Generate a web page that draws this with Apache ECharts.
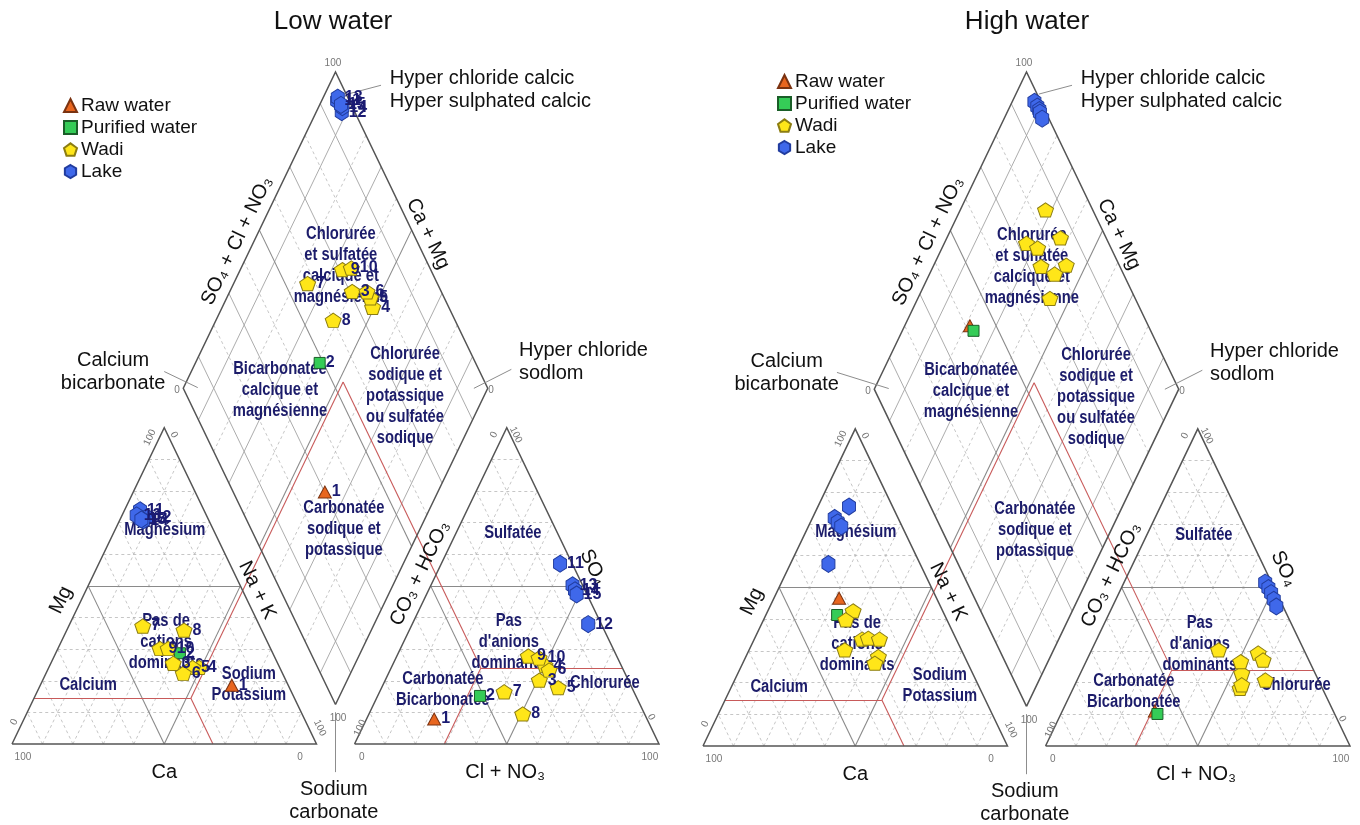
<!DOCTYPE html>
<html><head><meta charset="utf-8">
<script src="https://cdn.jsdelivr.net/npm/echarts@6/dist/echarts.min.js"></script>
<style>html,body{margin:0;padding:0;background:#fff}#c{width:1360px;height:825px}</style>
</head><body><div id="c"></div>
<script>
// ===== DATA (percent of meq) =====
// Low water
const lowRawId=[1], lowRawMg=[18.6], lowRawNaK=[62.9], lowRawSO4=[7.9], lowRawCl=[22.2];
const lowPurId=[2], lowPurMg=[28.7], lowPurNaK=[40.8], lowPurSO4=[15.2], lowPurCl=[33.6];
const lowWadiId=[3,4,5,6,7,8,9,10];
const lowWadiMg =[25.5,24.2,24.2,22.3,37.3,36.0,30.2,30.2];
const lowWadiNaK=[40.2,49.4,47.2,45.1,24.3,38.5,33.5,36.2];
const lowWadiSO4=[20.2,24.9,17.8,23.4,16.5, 9.5,27.8,27.2];
const lowWadiCl =[50.6,50.1,58.0,52.2,40.9,50.5,43.2,47.0];
const lowLakeId=[11,12,13,14,15];
const lowLakeMg =[73.9,71.7,72.3,70.7,71.0];
const lowLakeNaK=[5.1,8.4,4.8,7.8,7.0];
const lowLakeSO4=[57.0,37.9,50.2,48.6,47.3];
const lowLakeCl =[39.0,57.8,46.5,48.1,49.3];
// High water
const highRawMg=[46.6], highRawNaK=[21.4], highRawSO4=[11.0], highRawCl=[30.4];
const highPurMg=[41.3], highPurNaK=[23.4], highPurSO4=[10.1], highPurCl=[31.7];
const highWadiMg =[42.6,39.8,30.3,33.7,34.0,28.2,33.7,26.1];
const highWadiNaK=[28.0,27.0,31.4,35.4,37.3,43.5,41.1,43.4];
const highWadiSO4=[29.3,18.2,22.9,19.3,27.1,20.8,26.6,30.3];
const highWadiCl =[55.2,54.8,53.0,54.8,57.9,61.8,50.8,41.7];
const highLakeMg =[71.9,70.5,75.5,69.2,57.4];
const highLakeNaK=[7.3,9.0,10.2,10.8,12.5];
const highLakeSO4=[51.5,49.8,48.2,46.1,44.0];
const highLakeCl =[46.4,48.3,50.0,51.9,53.8];
// classification (red) lines
const redCatMg=14.5, redCatNaK=51.5, redAnSO4=24, redAnCl=29.5;
const gridSteps=[10,20,30,40,50,60,70,80,90];

// ===== GEOMETRY (Piper) =====
const G=12.5, S=Math.sqrt(3)/2, OFF=100+G, BX=100+G/2, BY=G/2*Math.sqrt(3);
const XMAX=200+G, YMAX=BY+200*S;
const cat=(mg,nak)=>[nak+mg/2, mg*S];
const an=(so4,cl)=>[OFF+cl+so4/2, so4*S];
const dia=(a,c)=>[BX+(a-c)/2, BY+(a+c)*S];

const PENT='path://M0,-10 L9.51,-3.09 L5.88,8.09 L-5.88,8.09 L-9.51,-3.09 Z';
const HEX='path://M0,-10 L8.66,-5 L8.66,5 L0,10 L-8.66,5 L-8.66,-5 Z';
const groups=[
 {name:'Raw water',symbol:'triangle',size:[13,12],color:'#e8661f',border:'#7a3210'},
 {name:'Purified water',symbol:'rect',size:[11,11],color:'#35cc57',border:'#1a5e28'},
 {name:'Wadi',symbol:PENT,size:[16,15],color:'#ffe619',border:'#8c7d12'},
 {name:'Lake',symbol:HEX,size:[15,17],color:'#3f68ea',border:'#213c9e'}
];
const SANS='"Liberation Sans",Arial,sans-serif';

function samplePoints(ids,mg,nak,so4,cl){
  const out=[];
  mg.forEach((m,i)=>{
    const nm=ids?String(ids[i]):'';
    const a=so4[i]+cl[i], c=100-nak[i];
    out.push({name:nm,value:cat(m,nak[i])});
    out.push({name:nm,value:an(so4[i],cl[i])});
    out.push({name:nm,value:dia(a,c)});
  });
  return out;
}
function seg(p,q){return {coords:[p,q]};}
function gridLines(){
  const dash=[], solid=[], dsolid=[];
  gridSteps.forEach(k=>{
    const t=(k===50)?solid:dash;
    t.push(seg(cat(k,0),cat(k,100-k)));
    t.push(seg(cat(0,k),cat(100-k,k)));
    t.push(seg(cat(0,100-k),cat(100-k,0)));
    t.push(seg(an(k,0),an(k,100-k)));
    t.push(seg(an(0,k),an(100-k,k)));
    t.push(seg(an(0,100-k),an(100-k,0)));
    const d=(k%20===10)?(k===50?solid:dsolid):dash;
    d.push(seg(dia(k,0),dia(k,100)));
    d.push(seg(dia(0,k),dia(100,k)));
  });
  return {dash,solid,dsolid};
}
function outlines(){
  return [
    {coords:[cat(0,0),cat(0,100),cat(100,0),cat(0,0)]},
    {coords:[an(0,0),an(0,100),an(100,0),an(0,0)]},
    {coords:[dia(0,0),dia(100,0),dia(100,100),dia(0,100),dia(0,0)]}
  ];
}
function redLines(){
  const jc=cat(redCatMg,redCatNaK), ja=an(redAnSO4,redAnCl);
  const apex=dia(redAnSO4+redAnCl, 100-redCatNaK);
  return [
    seg(cat(redCatMg,0),jc), seg(jc,cat(0,redCatMg+redCatNaK)), seg(jc,apex),
    seg(an(redAnSO4,100-redAnSO4),ja), seg(ja,an(0,redAnCl)), seg(ja,apex)
  ];
}

// ===== TEXT ANNOTATIONS (positions in diagram units) =====
const BIG={font:'20px '+SANS,fill:'#111',lineHeight:23};
const REG={font:'bold 18px '+SANS,fill:'#1c1c6a',lineHeight:21,sx:0.82};
const TICK={font:'10px '+SANS,fill:'#777'};
const R=64.4;
function T(x,y,text,st,extra){return Object.assign({x,y,text},st||BIG,extra||{});}
function annotations(panel){
  const calcX = panel===0?33.2:27.5;
  return [
    T(50,-7.7,'Ca'),
    T(162,-7.7,'Cl + NO\u2083'),
    T(16.1,39.4,'Mg',BIG,{rot:R}),
    T(80.5,42.1,'Na + K',BIG,{rot:-R}),
    T(134.0,46.7,'CO\u2083 + HCO\u2083',BIG,{rot:R}),
    T(190.8,48.4,'SO\u2084',BIG,{rot:-R}),
    T(73.9,137.8,'SO\u2084 + Cl + NO\u2083',BIG,{rot:R}),
    T(136.6,139.7,'Ca + Mg',BIG,{rot:-R}),
    T(124.1,179.2,'Hyper chloride calcic\nHyper sulphated calcic',BIG,{align:'left'}),
    T(calcX,101.8,'Calcium\nbicarbonate'),
    T(166.5,104.6,'Hyper chloride\nsodlom',BIG,{align:'left'}),
    T(105.7,-15.6,'Sodium\ncarbonate'),
    T(108.0,130.9,'Chlorurée\net sulfatée\ncalcique et\nmagnésienne',REG),
    T(88.0,96.8,'Bicarbonatée\ncalcique et\nmagnésienne',REG),
    T(129.1,95.4,'Chlorurée\nsodique et\npotassique\nou sulfatée\nsodique',REG),
    T(109.0,59.0,'Carbonatée\nsodique et\npotassique',REG),
    T(50.2,58.5,'Magnésium',REG),
    T(50.6,27.9,'Pas de\ncations\ndominants',REG),
    T(25.0,16.1,'Calcium',REG),
    T(77.8,16.4,'Sodium\nPotassium',REG),
    T(164.5,57.7,'Sulfatée',REG),
    T(163.2,27.9,"Pas\nd'anions\ndominants",REG),
    T(141.5,15.0,'Carbonatée\nBicarbonatée',REG),
    T(194.7,16.7,'Chlorurée',REG),
    T(105.4,186.4,'100',TICK),
    T(54.2,96.8,'0',TICK),
    T(157.3,96.8,'0',TICK),
    T(107.1,7.1,'100',TICK),
    T(3.6,-3.6,'100',TICK), T(94.6,-3.6,'0',TICK),
    T(114.9,-3.6,'0',TICK), T(209.5,-3.6,'100',TICK),
    T(0.7,6.0,'0',TICK,{rot:R}),
    T(45.3,83.9,'100',TICK,{rot:R}),
    T(53.2,84.7,'0',TICK,{rot:-R}),
    T(101.1,4.4,'100',TICK,{rot:-R}),
    T(114.3,4.4,'100',TICK,{rot:R}),
    T(158.3,84.7,'0',TICK,{rot:R}),
    T(165.5,84.7,'100',TICK,{rot:-R}),
    T(209.9,7.4,'0',TICK,{rot:-R})
  ];
}
function pointerLines(panel){
  const calcX = panel===0?50:44;
  return [
    seg([110.3,178.0],[121.2,180.4]),
    seg([calcX,102],[61,97.6]),
    seg([164,102.6],[151.7,97.4]),
    seg([BX,8.7],[BX,-7.7])
  ];
}

const series=[];
function addPanel(p, sets, labelled){
  const ax={xAxisIndex:p,yAxisIndex:p};
  const gl=gridLines();
  series.push(Object.assign({type:'lines',coordinateSystem:'cartesian2d',silent:true,clip:false,z:1,
    lineStyle:{color:'#b8b8b8',width:0.8,type:[3,3],opacity:1},data:gl.dash},ax));
  series.push(Object.assign({type:'lines',coordinateSystem:'cartesian2d',silent:true,clip:false,z:2,
    lineStyle:{color:'#a3a3a3',width:0.9,opacity:1},data:gl.dsolid},ax));
  series.push(Object.assign({type:'lines',coordinateSystem:'cartesian2d',silent:true,clip:false,z:2,
    lineStyle:{color:'#8a8a8a',width:1.1,opacity:1},data:gl.solid},ax));
  series.push(Object.assign({type:'lines',coordinateSystem:'cartesian2d',silent:true,clip:false,z:3,
    lineStyle:{color:'#c85a5a',width:1.1,opacity:1},data:redLines()},ax));
  series.push(Object.assign({type:'lines',coordinateSystem:'cartesian2d',polyline:true,silent:true,clip:false,z:4,
    lineStyle:{color:'#555',width:1.5,opacity:1},data:outlines()},ax));
  series.push(Object.assign({type:'lines',coordinateSystem:'cartesian2d',silent:true,clip:false,z:4,
    lineStyle:{color:'#8d8d8d',width:1,opacity:1},data:pointerLines(p)},ax));
  const A=annotations(p);
  series.push(Object.assign({type:'custom',silent:true,clip:false,z:5,
    data:A.map((a,i)=>[a.x,a.y,i]),
    renderItem:function(params,api){
      const a=A[api.value(2)];
      const pt=api.coord([api.value(0),api.value(1)]);
      const st={text:a.text,font:a.font,fill:a.fill,align:a.align||'center',verticalAlign:'middle'};
      if(a.lineHeight) st.lineHeight=a.lineHeight;
      return {type:'text',x:pt[0],y:pt[1],rotation:(a.rot||0)*Math.PI/180,scaleX:a.sx||1,style:st};
    }},ax));
  groups.forEach((g,i)=>{
    series.push(Object.assign({type:'scatter',name:g.name,clip:false,z:10+i,symbol:g.symbol,symbolSize:g.size,
      symbolKeepAspect:true,
      itemStyle:{color:g.color,borderColor:g.border,borderWidth:1,opacity:1},
      label:{show:labelled,formatter:'{b}',position:'right',distance:0,offset:[-2,11],color:'#1b1b72',
        fontWeight:'bold',fontSize:16,fontFamily:SANS},
      labelLayout:{hideOverlap:false},
      emphasis:{disabled:true},
      data:sets[i]},ax));
  });
}
addPanel(0,[
  samplePoints(lowRawId,lowRawMg,lowRawNaK,lowRawSO4,lowRawCl),
  samplePoints(lowPurId,lowPurMg,lowPurNaK,lowPurSO4,lowPurCl),
  samplePoints(lowWadiId,lowWadiMg,lowWadiNaK,lowWadiSO4,lowWadiCl),
  samplePoints(lowLakeId,lowLakeMg,lowLakeNaK,lowLakeSO4,lowLakeCl)
],true);
addPanel(1,[
  samplePoints(null,highRawMg,highRawNaK,highRawSO4,highRawCl),
  samplePoints(null,highPurMg,highPurNaK,highPurSO4,highPurCl),
  samplePoints(null,highWadiMg,highWadiNaK,highWadiSO4,highWadiCl),
  samplePoints(null,highLakeMg,highLakeNaK,highLakeSO4,highLakeCl)
],false);

const axisOff={show:false,type:'value',splitLine:{show:false}};
const legendData=groups.map(g=>({name:g.name,icon:g.symbol}));
const legendBase={orient:'vertical',itemWidth:13,itemHeight:13,itemGap:3,selectedMode:false,
  textStyle:{fontSize:19,fontFamily:SANS,color:'#111',padding:[0,0,0,-1]},data:legendData};
const chart=echarts.init(document.getElementById('c'),null,{renderer:'canvas'});
chart.setOption({
  animation:false,
  backgroundColor:'#fff',
  grid:[{left:12,top:72,width:647,height:672},{left:703,top:72,width:647,height:674}],
  xAxis:[Object.assign({min:0,max:XMAX,gridIndex:0},axisOff),Object.assign({min:0,max:XMAX,gridIndex:1},axisOff)],
  yAxis:[Object.assign({min:0,max:YMAX,gridIndex:0},axisOff),Object.assign({min:0,max:YMAX,gridIndex:1},axisOff)],
  legend:[Object.assign({left:58,top:91},legendBase),Object.assign({left:772,top:67},legendBase)],
  graphic:[
    {type:'text',x:333,y:22,style:{text:'Low water',font:'26px "Liberation Sans", Arial, sans-serif',fill:'#111',align:'center',verticalAlign:'middle'}},
    {type:'text',x:1027,y:22,style:{text:'High water',font:'26px "Liberation Sans", Arial, sans-serif',fill:'#111',align:'center',verticalAlign:'middle'}}
  ],
  series:series
});
</script></body></html>
